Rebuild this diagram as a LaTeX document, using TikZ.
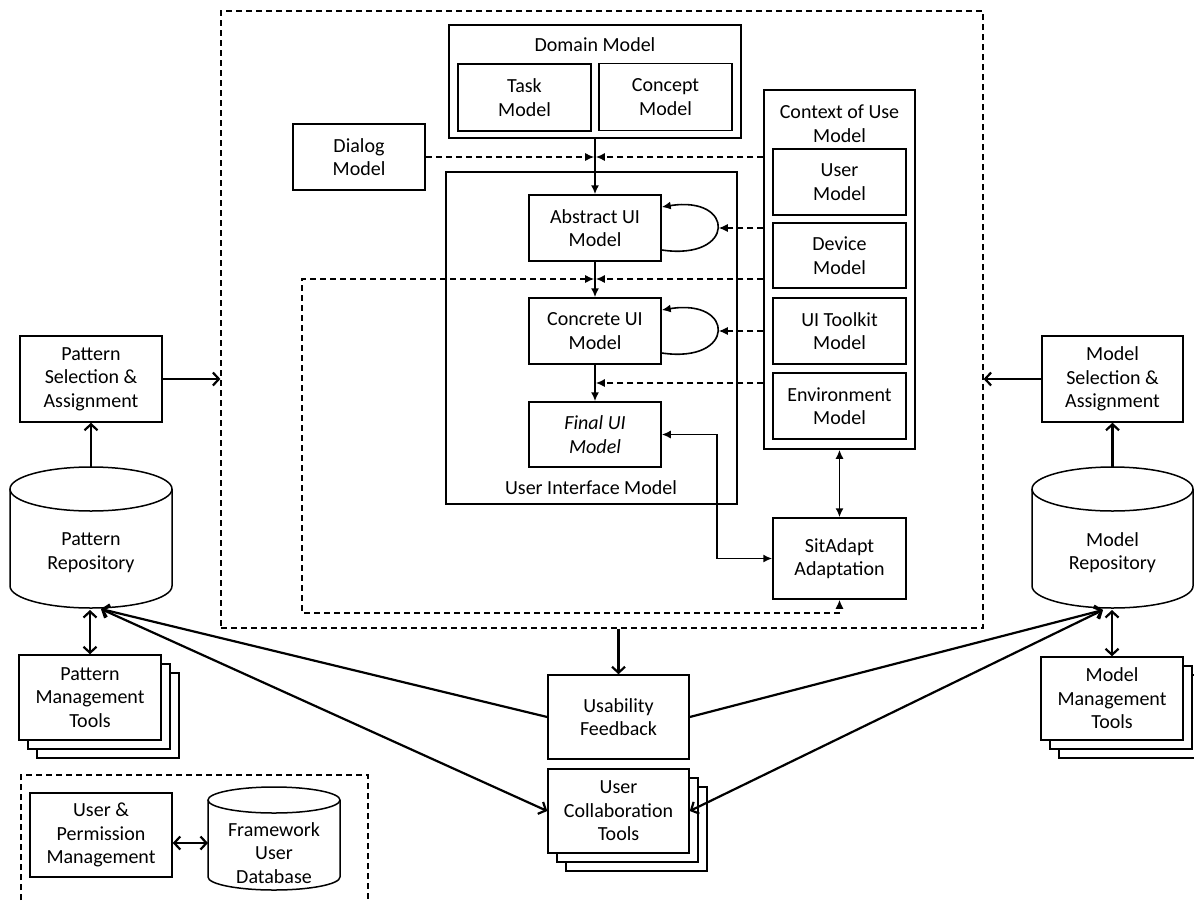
\documentclass[tikz,border=0pt]{standalone}
\usepackage{fontspec}
\setmainfont{Carlito}
\usetikzlibrary{arrows.meta,calc}
\newcommand{\dfont}{\fontsize{20}{23.5}\selectfont}
\begin{document}
\begin{tikzpicture}[x=1pt,y=-1pt,
  bx/.style={draw, line width=1.5pt, fill=white, align=center, inner sep=0pt, font=\dfont, minimum width=132pt, minimum height=66pt},
  frame/.style={draw, line width=1.5pt, inner sep=0pt},
  lbl/.style={align=center, inner sep=0pt, font=\dfont},
  dsh/.style={dash pattern=on 6pt off 4pt, line width=1.2pt},
  ar/.style={line width=1.6pt, -{Latex[length=9pt,width=8pt]}},
  arr/.style={line width=1.6pt, {Latex[length=9pt,width=8pt]}-{Latex[length=9pt,width=8pt]}},
  dar/.style={dash pattern=on 6pt off 4pt, line width=1.4pt, -{Latex[length=9pt,width=8pt]}},
  darr/.style={dash pattern=on 6pt off 4pt, line width=1.4pt, {Latex[length=9pt,width=8pt]}-{Latex[length=9pt,width=8pt]}},
  oar/.style={line width=2.2pt, -{Straight Barb[length=6pt,width=13pt]}},
  oarr/.style={line width=2.2pt, {Straight Barb[length=6pt,width=13pt]}-{Straight Barb[length=6pt,width=13pt]}},
  shd/.style={draw, line width=1.4pt, fill=white},
  cyl/.style={draw, line width=1.5pt, fill=white},
]
\useasboundingbox (0,0) rectangle (1194,900);

% ---------- outer dashed frame ----------
\node[draw, dsh, minimum width=762pt, minimum height=617pt, inner sep=0pt] (outer) at (602,319.5) {};

% ---------- domain model ----------
\node[frame, minimum width=292pt, minimum height=113pt] (dom) at (595,81.5) {};
\node[lbl] (domt) at (595,45) {Domain Model};
\node[bx, minimum width=133pt, minimum height=67pt] (task) at (524.5,97.5) {Task\\Model};
\node[bx, minimum width=133pt, minimum height=67pt] (conc) at (665.5,97) {Concept\\Model};

% ---------- dialog ----------
\node[bx] (dia) at (359,157) {Dialog\\Model};

% ---------- user interface model ----------
\node[frame, minimum width=291pt, minimum height=332pt] (uim) at (591.5,338) {};
\node[lbl] (uimt) at (591,488) {User Interface Model};
\node[bx] (abs) at (595,228) {Abstract UI\\Model};
\node[bx] (con) at (595,331) {Concrete UI\\Model};
\node[bx, font=\dfont\itshape, minimum height=65pt] (fin) at (595,434.5) {Final UI\\Model};

% ---------- context of use ----------
\node[frame, minimum width=151pt, minimum height=359pt] (ctx) at (839.5,269.5) {};
\node[lbl] (ctxt) at (839.5,123.5) {Context of Use\\Model};
\node[bx, minimum width=133pt] (usr) at (839.5,182) {User\\Model};
\node[bx, minimum width=133pt, minimum height=65pt] (dev) at (839.5,255.5) {Device\\Model};
\node[bx, minimum width=133pt] (tk) at (839.5,331) {UI Toolkit\\Model};
\node[bx, minimum width=133pt] (env) at (839.5,406) {Environment\\Model};
\node[bx, minimum width=133pt, minimum height=81pt] (sit) at (839.5,558.5) {SitAdapt\\Adaptation};

% ---------- inner connectors ----------
\coordinate (j1) at (595,157);
\coordinate (j2) at (595,279);
\coordinate (j3) at (595,383);
\draw[ar] (dom.south) -- (abs.north);
\draw[dar, shorten >=0.8pt] (dia.east) -- (j1);
\draw[dar, shorten >=0.8pt] (ctx.west |- j1) -- (j1);
\draw[ar] (abs.south) -- (con.north);
\draw[dar, shorten >=0.8pt] (ctx.west |- j2) -- (j2);
\coordinate (dl1) at (302,279);
\coordinate (dl2) at (302,613);
\draw[darr, shorten <=0.8pt] (j2) -- (dl1) -- (dl2) -| (sit.south);
\draw[ar] (con.south) -- (fin.north);
\draw[dar, shorten >=0.8pt] (ctx.west |- j3) -- (j3);

% self loops
\draw[ar] ($(abs.east)+(0,22)$) .. controls ($(abs.east)+(74,33)$) and ($(abs.east)+(74,-33)$) .. ($(abs.east)+(0,-21)$);
\coordinate (l1) at ($(abs.east)+(57,0)$);
\draw[dar] (ctx.west |- l1) -- (l1);
\draw[ar] ($(con.east)+(0,22)$) .. controls ($(con.east)+(74,33)$) and ($(con.east)+(74,-33)$) .. ($(con.east)+(0,-21)$);
\coordinate (l2) at ($(con.east)+(57,0)$);
\draw[dar] (ctx.west |- l2) -- (l2);

\coordinate (fb) at (717,434.5);
\draw[arr] (fin.east) -- (fb) |- (sit.west);
\draw[arr] (ctx.south) -- (sit.north);

% ---------- left side ----------
\node[bx, minimum width=142pt, minimum height=86pt] (ps) at (91,379) {Pattern\\Selection \&\\Assignment};
\draw[oar] (ps.east) -- (ps.east -| outer.west);

\draw[cyl] (10,489) -- (10,586) arc[start angle=180, end angle=0, x radius=81, y radius=22] -- (172,489);
\draw[line width=1.5pt] (91,489) ellipse [x radius=81, y radius=22];
\node[lbl] (prep) at (91,552.5) {Pattern\\Repository};
\coordinate (prT) at (91,467);
\coordinate (prB) at (101,609);
\coordinate (prB0) at (90,610);
\draw[oar] (prT) -- (ps.south);

\draw[shd] (37,673) rectangle (179,758);
\draw[shd] (28,664) rectangle (170,749);
\node[bx, minimum width=142pt, minimum height=85pt] (pmt) at (90,697.5) {Pattern\\Management\\Tools};
\draw[oarr] (prB0) -- (pmt.north);

% ---------- right side ----------
\node[bx, minimum width=141pt, minimum height=86pt] (ms) at (1112.5,379) {Model\\Selection \&\\Assignment};
\draw[oar] (ms.west) -- (ms.west -| outer.east);

\draw[cyl] (1032,489) -- (1032,586) arc[start angle=180, end angle=0, x radius=80.5, y radius=22] -- (1193,489);
\draw[line width=1.5pt] (1112.5,489) ellipse [x radius=80.5, y radius=22];
\node[lbl] (mrep) at (1112.5,552.5) {Model\\Repository};
\coordinate (mrT) at (1112.5,467);
\coordinate (mrB) at (1103,610);
\coordinate (mrB0) at (1112,610);
\draw[oar] (mrT) -- (ms.south);

\draw[shd] (1059,675) rectangle (1201,758);
\draw[shd] (1050,666) rectangle (1192,749);
\node[bx, minimum width=142pt, minimum height=83pt] (mmt) at (1112,698.5) {Model\\Management\\Tools};
\draw[oarr] (mrB0) -- (mmt.north);

% ---------- bottom centre ----------
\node[bx, minimum width=141pt, minimum height=84pt] (usa) at (618.5,717) {Usability\\Feedback};
\draw[oar] (outer.south -| usa.north) -- (usa.north);

\draw[shd] (566,787) rectangle (707,871);
\draw[shd] (557,778) rectangle (698,862);
\node[bx, minimum width=141pt, minimum height=84pt] (uct) at (618.5,811) {User\\Collaboration\\Tools};

\draw[oar] (usa.west) -- (prB);
\draw[oarr] (prB) -- (uct.west);
\draw[oar] (usa.east) -- (mrB);
\draw[oarr] (mrB) -- (uct.east);

% ---------- bottom left ----------
\coordinate (bl1) at (21,900);
\coordinate (bl2) at (21,775);
\coordinate (bl3) at (368,775);
\coordinate (bl4) at (368,900);
\draw[dsh] (bl1) -- (bl2) -- (bl3) -- (bl4);
\node[bx, minimum width=142pt, minimum height=84pt] (upm) at (101,835) {User \&\\Permission\\Management};
\draw[cyl] (208,800) -- (208,877) arc[start angle=180, end angle=0, x radius=66, y radius=13] -- (340,800);
\draw[line width=1.5pt] (274,800) ellipse [x radius=66, y radius=13];
\node[lbl] (fdb) at (274,853) {Framework\\User\\Database};
\coordinate (dbW) at (208,843);
\draw[oarr] (upm.east |- dbW) -- (dbW);
\end{tikzpicture}
\end{document}
